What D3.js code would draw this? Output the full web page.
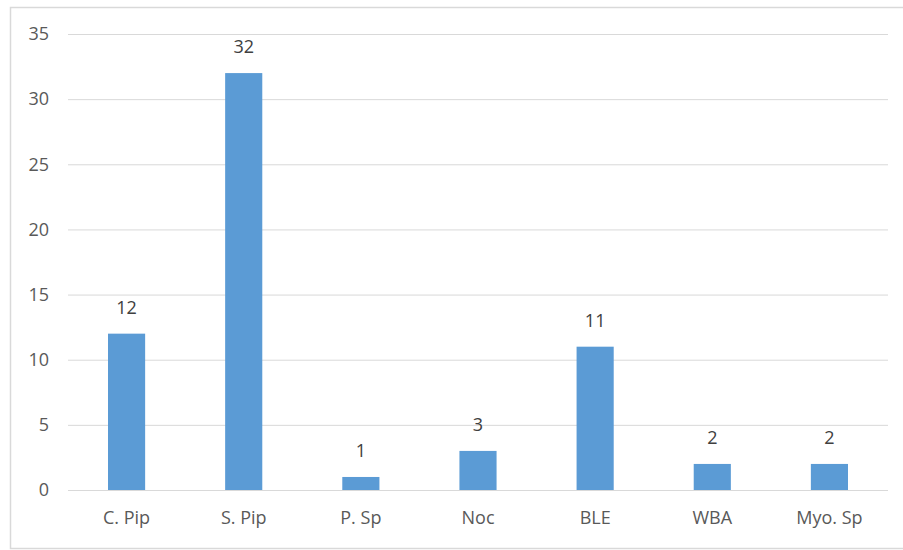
<!DOCTYPE html>
<html><head><meta charset="utf-8">
<script src="https://cdn.jsdelivr.net/npm/d3@7"></script>
<style>body{margin:0;background:#fff}svg{display:block}text{font-family:"Open Sans",Lato,sans-serif}</style>
</head><body><svg id="c" width="903" height="550"></svg>
<script>
const categories = ["C. Pip","S. Pip","P. Sp","Noc","BLE","WBA","Myo. Sp"];
const values = [12,32,1,3,11,2,2];
const yTicks = [0,5,10,15,20,25,30,35];

const svg = d3.select("#c");
const m = {left:68, right:903-888, top:34, bottom:550-490};
const W = 903, H = 550;
// outer border
svg.append("path").attr("d",`M${W+2},7.5 H10.5 V548.5 H${W+2}`).attr("fill","none").attr("stroke","#d9d9d9").attr("stroke-width",1.5);

const x = d3.scaleBand().domain(categories).range([m.left, W-m.right]).paddingInner(0.683).paddingOuter(0.3415);
const y = d3.scaleLinear().domain([0,35]).range([H-m.bottom, m.top]);

const gy = svg.append("g").attr("transform",`translate(${m.left},0)`)
  .call(d3.axisLeft(y).tickValues(yTicks).tickSize(-(W-m.right-m.left)).tickPadding(19));
gy.select(".domain").remove();
gy.selectAll(".tick line").attr("stroke","#d9d9d9");
gy.selectAll(".tick text").attr("fill","#595959").attr("font-size",18);

const gx = svg.append("g").attr("transform",`translate(0,${H-m.bottom})`)
  .call(d3.axisBottom(x).tickSize(0));
gx.select(".domain").remove();
gx.selectAll(".tick text").attr("fill","#595959").attr("font-size",18).attr("y",34).attr("dy",0);

svg.append("g").selectAll("rect").data(values).join("rect")
  .attr("x",(d,i)=>x(categories[i])).attr("width",x.bandwidth())
  .attr("y",d=>y(d)).attr("height",d=>y(0)-y(d)).attr("fill","#5b9bd5");

svg.append("g").selectAll("text").data(values).join("text")
  .attr("x",(d,i)=>x(categories[i])+x.bandwidth()/2).attr("y",d=>y(d)-20)
  .attr("text-anchor","middle").attr("fill","#404040").attr("font-size",18).text(d=>d);
</script></body></html>
